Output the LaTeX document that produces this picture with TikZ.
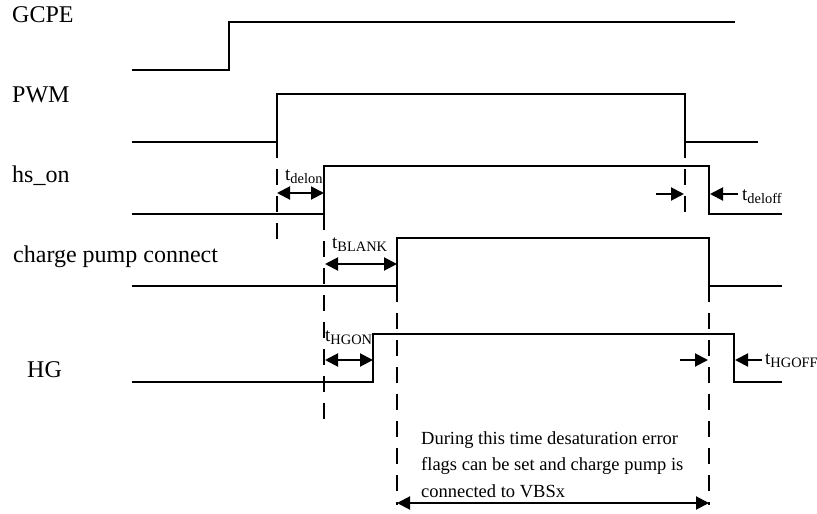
\documentclass[tikz,border=0pt]{standalone}
\usepackage{fontspec}
\setmainfont{Liberation Serif}
\usetikzlibrary{arrows.meta}
\newcommand\tlab[1]{{\fontsize{19}{19}\selectfont t}\raisebox{-3.5pt}{\fontsize{14.4}{14.4}\selectfont #1}}
\begin{document}
\begin{tikzpicture}[x=1pt,y=-1pt,
 wave/.style={line width=2pt},
 guide/.style={line width=2pt, dash pattern=on 16pt off 11pt},
 tip/.tip={Triangle[length=13pt,width=13pt]},
 dim/.style={line width=2pt,tip-tip},
 ptr/.style={line width=2pt,-tip},
 sig/.style={anchor=base west,font=\fontsize{24}{24}\selectfont,inner sep=0pt},
 tl/.style={anchor=base west,inner sep=0pt},
 note/.style={anchor=base west,font=\fontsize{18.5}{18.5}\selectfont,inner sep=0pt}]
\useasboundingbox (0,0) rectangle (817,514);

% signal names
\node[sig] (lGCPE) at (12,23) {GCPE};
\node[sig] (lPWM) at (12,102) {PWM};
\node[sig] (lhs) at (12,182) {hs\_on};
\node[sig] (lcp) at (13,262) {charge pump connect};
\node[sig] (lHG) at (27,377) {HG};

% waveforms
\draw[wave] (132,70) -- (229,70) -- (229,22) -- (735,22);
\draw[wave] (132,142) -- (277,142) -- (277,94) -- (685,94) -- (685,142) -- (758,142);
\draw[wave] (132,214) -- (324,214) -- (324,166) -- (709,166) -- (709,214) -- (782,214);
\draw[wave] (132,286) -- (397,286) -- (397,238) -- (709,238) -- (709,286) -- (782,286);
\draw[wave] (132,382) -- (373,382) -- (373,334) -- (734,334) -- (734,382) -- (782,382);

% guide lines
\coordinate (g1a) at (277,142); \coordinate (g1b) at (277,240);
\coordinate (g2a) at (324,214); \coordinate (g2b) at (324,430);
\coordinate (g3a) at (397,286); \coordinate (g3b) at (397,505);
\coordinate (g4a) at (685,142); \coordinate (g4b) at (685,222);
\coordinate (g5a) at (709,286); \coordinate (g5b) at (709,505);
\draw[guide] (g1a) -- (g1b);
\draw[guide] (g2a) -- (g2b);
\draw[guide] (g3a) -- (g3b);
\draw[guide] (g4a) -- (g4b);
\draw[guide] (g5a) -- (g5b);

% timing arrows
\coordinate (delonL) at (277,193); \coordinate (delonR) at (324,193);
\draw[dim] (delonL) -- (delonR);
\node[tl] (tdelon) at (285,180) {\tlab{delon}};

\coordinate (blankL) at (325,264); \coordinate (blankR) at (397,264);
\draw[dim] (blankL) -- (blankR);
\node[tl] (tblank) at (332,248) {\tlab{BLANK}};

\coordinate (doffA) at (656,194); \coordinate (doffAt) at (684,194);
\coordinate (doffB) at (738,194); \coordinate (doffBt) at (710,194);
\draw[ptr] (doffA) -- (doffAt);
\draw[ptr] (doffB) -- (doffBt);
\node[tl] (tdeloff) at (742,200) {\tlab{deloff}};

\coordinate (hgonL) at (325,360); \coordinate (hgonR) at (373,360);
\draw[dim] (hgonL) -- (hgonR);
\node[tl] (thgon) at (325,341) {\tlab{HGON}};

\coordinate (hoffA) at (680,360); \coordinate (hoffAt) at (708,360);
\coordinate (hoffB) at (762,360); \coordinate (hoffBt) at (735,360);
\draw[ptr] (hoffA) -- (hoffAt);
\draw[ptr] (hoffB) -- (hoffBt);
\node[tl] (thgoff) at (765,364) {\tlab{HGOFF}};

\coordinate (winL) at (397,503); \coordinate (winR) at (709,503);
\draw[dim] (winL) -- (winR);

% note
\node[note] (n1) at (421,444) {During this time desaturation error};
\node[note] (n2) at (421,470) {flags can be set and charge pump is};
\node[note] (n3) at (421,497) {connected to VBSx};
\end{tikzpicture}
\end{document}
